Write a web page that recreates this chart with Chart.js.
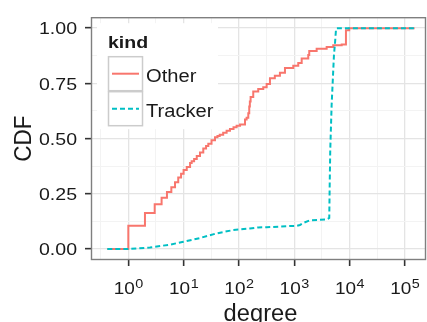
<!DOCTYPE html>
<html>
<head>
<meta charset="utf-8">
<script src="https://cdn.jsdelivr.net/npm/chart.js@4/dist/chart.umd.min.js"></script>
<style>
html,body{margin:0;padding:0;background:#fff;}
canvas{display:block;}
</style>
</head>
<body>
<canvas id="c" width="427" height="322"></canvas>
<script>
// ---- data ----
const seriesNames = ['Other', 'Tracker'];
const otherDegree = [0.417, 1, 2, 3, 4, 5, 6, 7, 8, 9, 10, 11.4, 13.1, 14, 15.5, 17.3, 19.8, 22.7, 25.5, 28, 32, 37, 41, 45, 52, 60, 69, 80, 91, 105, 129, 138, 148, 154, 158, 163, 182, 224, 276, 318, 365, 447, 553, 682, 964, 1186, 1368, 1799, 1875, 2553, 3873, 5093, 7244, 8650, 9910, 151000];
const otherCDF    = [0, 0.105, 0.163, 0.203, 0.232, 0.258, 0.280, 0.302, 0.324, 0.341, 0.358, 0.372, 0.389, 0.397, 0.408, 0.421, 0.437, 0.455, 0.467, 0.477, 0.492, 0.506, 0.512, 0.517, 0.527, 0.535, 0.543, 0.551, 0.558, 0.564, 0.586, 0.594, 0.615, 0.645, 0.668, 0.688, 0.713, 0.724, 0.732, 0.747, 0.773, 0.785, 0.798, 0.820, 0.830, 0.842, 0.863, 0.878, 0.896, 0.907, 0.915, 0.922, 0.926, 0.990, 1.0, 1.0];
const trackerDegree = [0.417, 1, 2.47, 5.68, 9.9, 19.8, 39.7, 79, 158, 224, 320, 840, 1110, 1274, 1524, 1932, 3873, 4315, 4400, 4500, 4764, 5248, 5470, 5700, 5861, 151000];
const trackerCDF    = [0, 0, 0.007, 0.02, 0.033, 0.05, 0.071, 0.086, 0.093, 0.098, 0.099, 0.104, 0.105, 0.109, 0.12, 0.13, 0.134, 0.141, 0.30, 0.45, 0.652, 0.878, 0.929, 0.99, 1.0, 1.0];
const yTickValues = [0, 0.25, 0.5, 0.75, 1];
const xTickExponents = [0, 1, 2, 3, 4, 5];
const xLabel = 'degree';
const yLabel = 'CDF';
const legendTitle = 'kind';

// ---- style ----
const FONT = "'Liberation Sans', Arial, sans-serif";
const COLORS = ['#F8766D', '#00BFC4'];
const TEXT = '#1a1a1a';
const SX = 1.15; // horizontal stretch of the reference's text

function sText(ctx, txt, x, y, font, align, baseline, sx) {
  ctx.save();
  ctx.translate(x, y);
  ctx.scale(sx, 1);
  ctx.font = font;
  ctx.textAlign = align;
  ctx.textBaseline = baseline;
  ctx.fillStyle = TEXT;
  ctx.fillText(txt, 0, 0);
  ctx.restore();
}

const isMajorX = v => xTickExponents.some(e => Math.abs(Math.log10(v) - e) < 1e-6);
const isMajorY = v => yTickValues.some(t => Math.abs(v - t) < 1e-9);

const custom = {
  id: 'custom',
  afterLayout(chart) {
    const ys = chart.scales.y;
    if (!ys._stretchPatched) {
      const orig = ys.drawLabels.bind(ys);
      ys.drawLabels = function (area) {
        const ctx = chart.ctx;
        const ax = ys.right - ys.options.grid.tickLength - ys.options.ticks.padding;
        ctx.save();
        ctx.translate(ax, 0); ctx.scale(SX, 1); ctx.translate(-ax, 0);
        orig(area);
        ctx.restore();
      };
      ys._stretchPatched = true;
    }
  },
  afterDatasetsDraw(chart) {
    const {ctx, chartArea: a} = chart;
    // panel border
    ctx.save();
    ctx.strokeStyle = '#7F7F7F';
    ctx.lineWidth = 1.4;
    ctx.strokeRect(a.left - 0.5, a.top - 0.5, a.right - a.left + 1, a.bottom - a.top + 1);
    ctx.restore();

    // legend (inside panel, top-left)
    const lx = a.left + 5, ly = a.top + 5;
    ctx.save();
    ctx.fillStyle = '#ffffff';
    ctx.fillRect(lx, ly, 121, 106);
    ctx.restore();
    sText(ctx, legendTitle, lx + 11, ly + 25, 'bold 17px ' + FONT, 'left', 'alphabetic', SX);
    const keyX = lx + 11, keyW = 35, keyH = 35;
    seriesNames.forEach((name, i) => {
      const ky = ly + 33 + i * keyH;
      ctx.save();
      ctx.fillStyle = '#ffffff';
      ctx.fillRect(keyX, ky, keyW, keyH);
      ctx.strokeStyle = '#CCCCCC';
      ctx.lineWidth = 1.5;
      ctx.strokeRect(keyX + 0.5, ky + 0.5, keyW - 1, keyH - 1);
      ctx.strokeStyle = COLORS[i];
      ctx.lineWidth = 2;
      ctx.setLineDash(i === 1 ? [5, 3] : []);
      ctx.beginPath();
      ctx.moveTo(keyX + 4, ky + keyH / 2);
      ctx.lineTo(keyX + keyW - 4, ky + keyH / 2);
      ctx.stroke();
      ctx.restore();
      sText(ctx, name, keyX + keyW + 3, ky + keyH / 2 + 8.5, '17.5px ' + FONT, 'left', 'alphabetic', SX);
    });
  },
  afterDraw(chart) {
    const {ctx, chartArea: a, scales} = chart;
    const xs = scales.x;
    // x tick labels 10^k
    const bigF = '16.5px ' + FONT, smallF = '12.5px ' + FONT;
    xTickExponents.forEach(e => {
      const px = xs.getPixelForValue(Math.pow(10, e));
      ctx.save();
      ctx.font = bigF; const w1 = ctx.measureText('10').width * SX;
      ctx.font = smallF; const w2 = ctx.measureText(String(e)).width * SX;
      ctx.restore();
      const start = px - (w1 + w2) / 2;
      sText(ctx, '10', start, a.bottom + 34.5, bigF, 'left', 'alphabetic', SX);
      sText(ctx, String(e), start + w1 + 0.5, a.bottom + 28.5, smallF, 'left', 'alphabetic', SX);
    });
    // axis titles
    sText(ctx, xLabel, (a.left + a.right) / 2 + 2, 320.5, '23px ' + FONT, 'center', 'alphabetic', 1.03);
    ctx.save();
    ctx.translate(30.5, (a.top + a.bottom) / 2);
    ctx.rotate(-Math.PI / 2);
    ctx.scale(1, 1.1);
    ctx.font = '22.5px ' + FONT;
    ctx.textAlign = 'center';
    ctx.textBaseline = 'alphabetic';
    ctx.fillStyle = TEXT;
    ctx.fillText(yLabel, 0, 0);
    ctx.restore();
  }
};

const gridColor = major => major ? '#E4E4E4' : '#F3F3F3';

new Chart(document.getElementById('c'), {
  type: 'line',
  data: {
    datasets: [
      {
        label: seriesNames[0],
        data: otherDegree.map((x, i) => ({x, y: otherCDF[i]})),
        borderColor: COLORS[0],
        borderWidth: 2,
        stepped: 'before',
        pointRadius: 0,
        fill: false,
        order: 1
      },
      {
        label: seriesNames[1],
        data: trackerDegree.map((x, i) => ({x, y: trackerCDF[i]})),
        borderColor: COLORS[1],
        borderWidth: 2,
        borderDash: [5, 3],
        tension: 0,
        pointRadius: 0,
        fill: false,
        order: 0
      }
    ]
  },
  options: {
    responsive: false,
    animation: false,
    events: [],
    layout: {padding: {top: 10, right: 2, left: 0, bottom: 0}},
    plugins: {legend: {display: false}, tooltip: {enabled: false}},
    scales: {
      x: {
        type: 'logarithmic',
        min: Math.pow(10, -0.657),
        max: Math.pow(10, 5.367),
        bounds: 'data',
        afterFit: s => { s.height = 63; },
        afterBuildTicks: s => {
          const t = [];
          for (let k = -1; k <= 11; k++) {
            const v = Math.pow(10, k / 2);
            if (v >= s.min && v <= s.max) t.push({value: v});
          }
          s.ticks = t;
        },
        ticks: {autoSkip: false, maxRotation: 0, minRotation: 0, callback: () => ''},
        grid: {
          color: c => gridColor(c.tick && isMajorX(c.tick.value)),
          lineWidth: c => (c.tick && isMajorX(c.tick.value)) ? 1.3 : 1,
          tickLength: 7,
          tickWidth: 1.6,
          tickColor: c => (c.tick && isMajorX(c.tick.value)) ? '#333333' : 'rgba(0,0,0,0)'
        },
        border: {display: false}
      },
      y: {
        type: 'linear',
        min: -0.045,
        max: 1.045,
        bounds: 'data',
        afterFit: s => { s.width = 92; },
        afterBuildTicks: s => {
          const t = [];
          for (let k = 0; k <= 8; k++) t.push({value: k / 8});
          s.ticks = t;
        },
        ticks: {
          autoSkip: false,
          padding: 8,
          labelOffset: 1.5,
          color: TEXT,
          font: {family: FONT, size: 17},
          callback: v => isMajorY(v) ? v.toFixed(2) : ''
        },
        grid: {
          color: c => gridColor(c.tick && isMajorY(c.tick.value)),
          lineWidth: c => (c.tick && isMajorY(c.tick.value)) ? 1.3 : 1,
          tickLength: 7,
          tickWidth: 1.6,
          tickColor: c => (c.tick && isMajorY(c.tick.value)) ? '#333333' : 'rgba(0,0,0,0)'
        },
        border: {display: false}
      }
    }
  },
  plugins: [custom]
});
</script>
</body>
</html>
